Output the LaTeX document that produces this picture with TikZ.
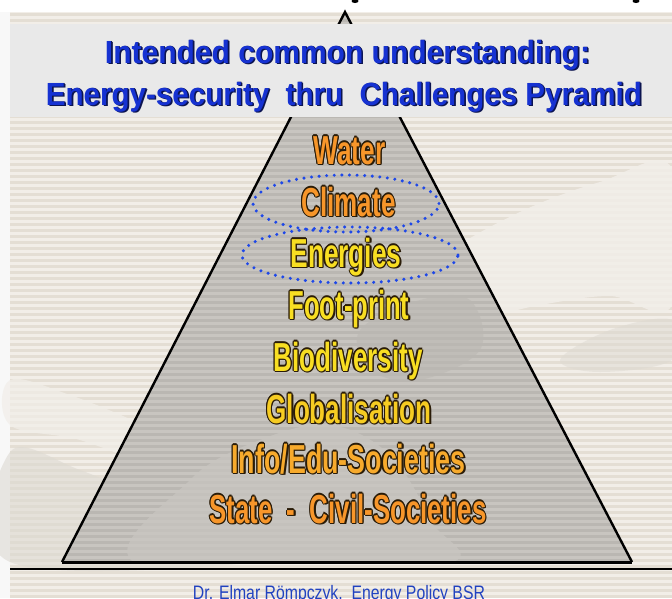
\documentclass[tikz,border=0pt]{standalone}
\usepackage{fontspec}
\setmainfont{Liberation Sans}
\usepackage{graphicx}
\usetikzlibrary{shapes.geometric}

\definecolor{pagewhite}{HTML}{F8F8F8}
\definecolor{bgbeige}{HTML}{F2EEE8}
\definecolor{bgstripe}{HTML}{E4DED4}
\definecolor{titlegray}{HTML}{E9E9E9}
\definecolor{pyrgray}{HTML}{C8C5C0}
\definecolor{pyrstripe}{HTML}{BAB7B2}
\definecolor{handlight}{HTML}{F1EEE9}
\definecolor{handgray}{HTML}{DDD9D2}
\definecolor{titleblue}{HTML}{1632D2}
\definecolor{titleshade}{HTML}{0C1450}
\definecolor{footblue}{HTML}{2142C0}
\definecolor{ringblue}{HTML}{1E48E8}
\definecolor{edgec}{HTML}{2A1C08}
\definecolor{lblorange}{HTML}{F7962A}
\definecolor{lblamber}{HTML}{F7AA2C}
\definecolor{lblyellow}{HTML}{F8DE22}
\definecolor{lblgold}{HTML}{F6CC22}

% outlined / shadowed lettering: one box for the edge colour, one for the face
\newsavebox\edgebox
\newsavebox\facebox
\newcommand\lblfont{\fontsize{40.5}{40.5}\selectfont\bfseries}
\newcommand\ttlfont{\fontsize{32}{32}\selectfont\bfseries}
\newcommand\footfont{\fontsize{19.5}{19.5}\selectfont}
\newcommand\shiftcopy[2]{\makebox[0pt][l]{\hspace*{#1}\raisebox{#2}{\usebox\edgebox}}}
\newcommand\outlined[3]{%
  \sbox\edgebox{\resizebox{#2}{\height}{\lblfont\color{edgec}#3}}%
  \sbox\facebox{\resizebox{#2}{\height}{\lblfont\color{#1}#3}}%
  \shiftcopy{1.1pt}{0pt}\shiftcopy{-1.1pt}{0pt}%
  \shiftcopy{0pt}{1.1pt}\shiftcopy{0pt}{-1.1pt}%
  \shiftcopy{0.8pt}{0.8pt}\shiftcopy{-0.8pt}{0.8pt}%
  \shiftcopy{0.8pt}{-0.8pt}\shiftcopy{-0.8pt}{-0.8pt}%
  \shiftcopy{1.4pt}{-1.4pt}%
  \usebox\facebox}
\newcommand\shadowed[2]{%
  \sbox\edgebox{\resizebox{#1}{\height}{\ttlfont\color{titleshade}#2}}%
  \sbox\facebox{\resizebox{#1}{\height}{\ttlfont\color{titleblue}#2}}%
  \shiftcopy{1.6pt}{-1.6pt}\shiftcopy{0.8pt}{-0.8pt}%
  \usebox\facebox}

\tikzset{
  lbl/.style={anchor=base, inner sep=0pt, outer sep=0pt},
  ring/.style={draw=ringblue, ellipse, inner sep=0pt, line width=3.4pt,
               line cap=round, dash pattern=on 0pt off 7.6pt},
  edgeline/.style={draw=black, line width=2.4pt, line join=miter},
}

\begin{document}
\begin{tikzpicture}[x=1pt, y=-1pt]
\useasboundingbox (0,0) rectangle (672,598);
\fill[white] (0,0) rectangle (672,598);
\fill[pagewhite] (0,12) rectangle (10,598);

% slide background with horizontal stripes
\fill[bgbeige] (10,12) rectangle (672,598);
\foreach \y in {13,19,...,598}
  \fill[bgstripe] (10,\y) rectangle (672,\y+3);

% faint hand shapes in the background
\fill[handlight, opacity=0.85] plot[smooth cycle, tension=0.6] coordinates
  {(672,168) (600,182) (520,212) (445,255) (410,300) (455,322) (540,305) (610,296) (672,305)};
\fill[handlight, opacity=0.7] plot[smooth cycle, tension=0.6] coordinates
  {(10,380) (70,395) (150,428) (230,468) (240,500) (160,470) (80,440) (10,425)};
\fill[handgray, opacity=0.6] plot[smooth cycle, tension=0.6] coordinates
  {(10,452) (80,470) (160,505) (230,540) (260,562) (10,562)};
\fill[handgray, opacity=0.5] plot[smooth cycle, tension=0.6] coordinates
  {(672,320) (610,330) (560,360) (600,372) (672,360)};

% pyramid body
\coordinate (apex) at (345,12);
\coordinate (baseL) at (62,562);
\coordinate (baseR) at (632,562);
\fill[pyrgray] (apex) -- (baseR) -- (baseL) -- cycle;
\begin{scope}
  \clip (apex) -- (baseR) -- (baseL) -- cycle;
  \foreach \y in {13,19,...,562}
    \fill[pyrstripe] (0,\y) rectangle (672,\y+3);
  \fill[pyrgray, opacity=0.75] plot[smooth cycle, tension=0.6] coordinates
    {(140,565) (190,480) (260,440) (330,425) (390,455) (430,520) (440,565)};
  \fill[pyrstripe, opacity=0.5] plot[smooth cycle, tension=0.6] coordinates
    {(360,330) (420,300) (470,300) (480,350) (420,380) (370,370)};
\end{scope}
\draw[edgeline] (baseL) -- (apex) -- (baseR);
\draw[black, line width=3pt] (baseL) -- (baseR);

% title band
\fill[titlegray] (10,24) rectangle (672,117);
\node[lbl] (title1) at (347.5,63) {\shadowed{485pt}{Intended common understanding:}};
\node[lbl] (title2) at (344,105) {\shadowed{596pt}{Energy-security\ \ thru\ \ Challenges Pyramid}};

% cut-off lettering at the very top
\fill[black] (355,1) ellipse (3.5 and 2);
\fill[black] (636,1) ellipse (3.5 and 2);

% dotted rings
\node[ring, minimum width=186pt, minimum height=57pt] (ringclimate) at (346,203.5) {};
\node[ring, minimum width=216pt, minimum height=56pt] (ringenergies) at (350,255) {};

% pyramid levels
\node[lbl] (water)      at (349.5,164) {\outlined{lblorange}{72pt}{Water}};
\node[lbl] (climate)    at (348.5,216) {\outlined{lblorange}{94pt}{Climate}};
\node[lbl] (energies)   at (346,267)   {\outlined{lblyellow}{111pt}{Energies}};
\node[lbl] (footprint)  at (349,319)   {\outlined{lblyellow}{121pt}{Foot-print}};
\node[lbl] (biodiv)     at (348,371)   {\outlined{lblyellow}{149pt}{Biodiversity}};
\node[lbl] (global)     at (349,423)   {\outlined{lblgold}{165pt}{Globalisation}};
\node[lbl] (infoedu)    at (348.5,473) {\outlined{lblamber}{234pt}{Info/Edu-Societies}};
\node[lbl] (statecivil) at (348,523)   {\outlined{lblorange}{277pt}{State\ \ -\ \ Civil-Societies}};

% footer
\draw[black, line width=1.8pt] (10,569) -- (672,569);
\node[lbl] (footer) at (339,599) {\resizebox{292pt}{\height}{\footfont\color{footblue}Dr. Elmar Römpczyk,\ \ Energy Policy BSR}};
\end{tikzpicture}
\end{document}
